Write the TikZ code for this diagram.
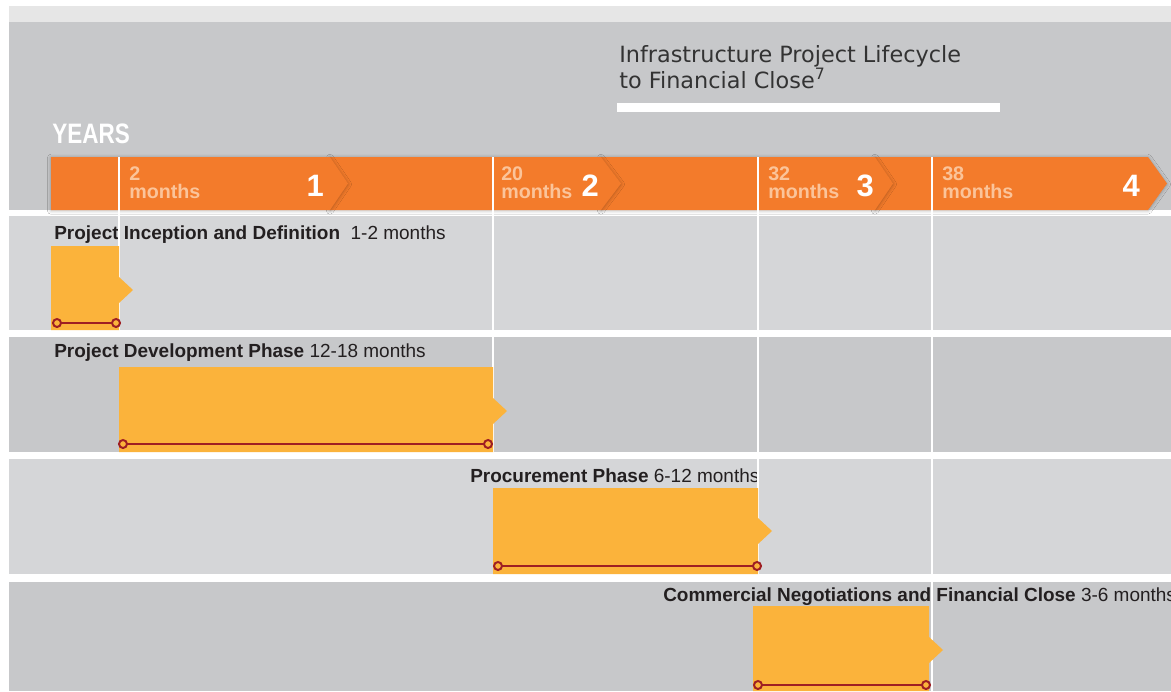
\documentclass[tikz,border=0pt]{standalone}
\usepackage{fontspec}
\setmainfont{Liberation Sans}
\newfontfamily\titlefont{DejaVu Sans}
\usetikzlibrary{positioning, shadows.blur}

\definecolor{HeadGray}{HTML}{C7C8CA}
\definecolor{RowLight}{HTML}{D5D6D8}
\definecolor{TopStrip}{HTML}{E6E6E6}
\definecolor{BandOrange}{HTML}{F37B2B}
\definecolor{PhaseAmber}{HTML}{FBB33B}
\definecolor{LineRed}{HTML}{9E1F23}
\definecolor{TitleGray}{HTML}{333333}
\definecolor{MonthPeach}{HTML}{FBC49A}
\definecolor{LabelInk}{HTML}{231F20}

\tikzset{
  yearseg/.style={fill=BandOrange, blur shadow={shadow xshift=0pt, shadow yshift=-0.5pt, shadow blur radius=2.5pt, shadow opacity=30}},
  phasebar/.style={fill=PhaseAmber},
  tline/.style={draw=LineRed, line width=1.4pt},
  tdot/.style={draw=LineRed, line width=1.4pt, fill=PhaseAmber},
  phaselabel/.style={anchor=base west, inner sep=0pt, text=LabelInk, font=\fontsize{13.5}{15}\selectfont},
  monthlabel/.style={anchor=north west, inner sep=0pt, align=left, text=MonthPeach, font=\bfseries\fontsize{14}{13.4}\selectfont},
  yearnum/.style={anchor=base east, inner sep=0pt, text=white, font=\bfseries\fontsize{22}{22}\selectfont},
  gridline/.style={draw=white, line width=1pt},
}

\begin{document}
\begin{tikzpicture}[x=0.025cm, y=-0.025cm]
\useasboundingbox (0,0) rectangle (1171,691);
\fill[white] (0,0) rectangle (1171,691);

% header panel
\fill[TopStrip] (9,6) rectangle (1171,22);
\fill[HeadGray] (9,22) rectangle (1171,210);
\node[anchor=base west, inner sep=0pt, align=left, text=TitleGray, font=\titlefont\fontsize{15.9}{17.8}\selectfont] (title) at (619,88) {Infrastructure Project Lifecycle\\to Financial Close\textsuperscript{7}};
\fill[white] (617,103) rectangle (1000,112);
\node[anchor=base west, inner sep=0pt, text=white, font=\bfseries\fontsize{20}{20}\selectfont] (years) at (52,143) {\scalebox{0.8}[1]{YEARS}};

% year band, back to front so each tip lies on the next segment
\foreach \xa/\xb/\xt in {875/1148/1167, 601/875/893, 330/601/621, 51/330/348}
  \fill[yearseg] (\xa,157) -- (\xb,157) -- (\xt,183.5) -- (\xb,210) -- (\xa,210) -- cycle;

% phase rows
\fill[RowLight] (9,216) rectangle (1171,330);
\fill[HeadGray] (9,337) rectangle (1171,452);
\fill[RowLight] (9,459) rectangle (1171,574);
\fill[HeadGray] (9,582) rectangle (1171,691);

% month marks and year numbers
\node[monthlabel] (m1) at (129,166) {2\\months};
\node[monthlabel] (m2) at (501,166) {20\\months};
\node[monthlabel] (m3) at (768,166) {32\\months};
\node[monthlabel] (m4) at (942,166) {38\\months};
\node[yearnum] (y1) at (324,196) {1};
\node[yearnum] (y2) at (599,196) {2};
\node[yearnum] (y3) at (874,196) {3};
\node[yearnum] (y4) at (1140,196) {4};

% phase names
\node[phaselabel] (l1) at (54,239) {\textbf{Project Inception and Definition}\ \ 1-2 months};
\node[phaselabel] (l2) at (54,357) {\textbf{Project Development Phase} 12-18 months};
\node[phaselabel] (l3) at (470,482) {\textbf{Procurement Phase} 6-12 months};
\node[phaselabel] (l4) at (663,601) {\textbf{Commercial Negotiations and Financial Close} 3-6 months};

% month grid, each line running down to the row whose phase ends there
\foreach \gx/\gy in {119/330, 493/452, 758/574, 932/691}
  \draw[gridline] (\gx,157) -- (\gx,\gy);

% phase bars with their duration lines
\foreach \i/\xa/\xb/\yt/\yb/\ym/\ca/\cb/\yc in {
    1/51/119/246/330/290/57/116/323,
    2/119/493/367/452/411/123/488/444,
    3/493/758/488/574/531/498/757/566,
    4/753/929/606/691/650/758/926/685} {
  \fill[phasebar] (\xa,\yt) -- (\xb,\yt) -- (\xb,\ym-13) -- (\xb+14,\ym) -- (\xb,\ym+13) -- (\xb,\yb) -- (\xa,\yb) -- cycle;
  \coordinate (s\i) at (\ca,\yc);
  \coordinate (e\i) at (\cb,\yc);
  \draw[tline] (s\i) -- (e\i);
  \draw[tdot] (s\i) circle[radius=4];
  \draw[tdot] (e\i) circle[radius=4];
}
\end{tikzpicture}
\end{document}
